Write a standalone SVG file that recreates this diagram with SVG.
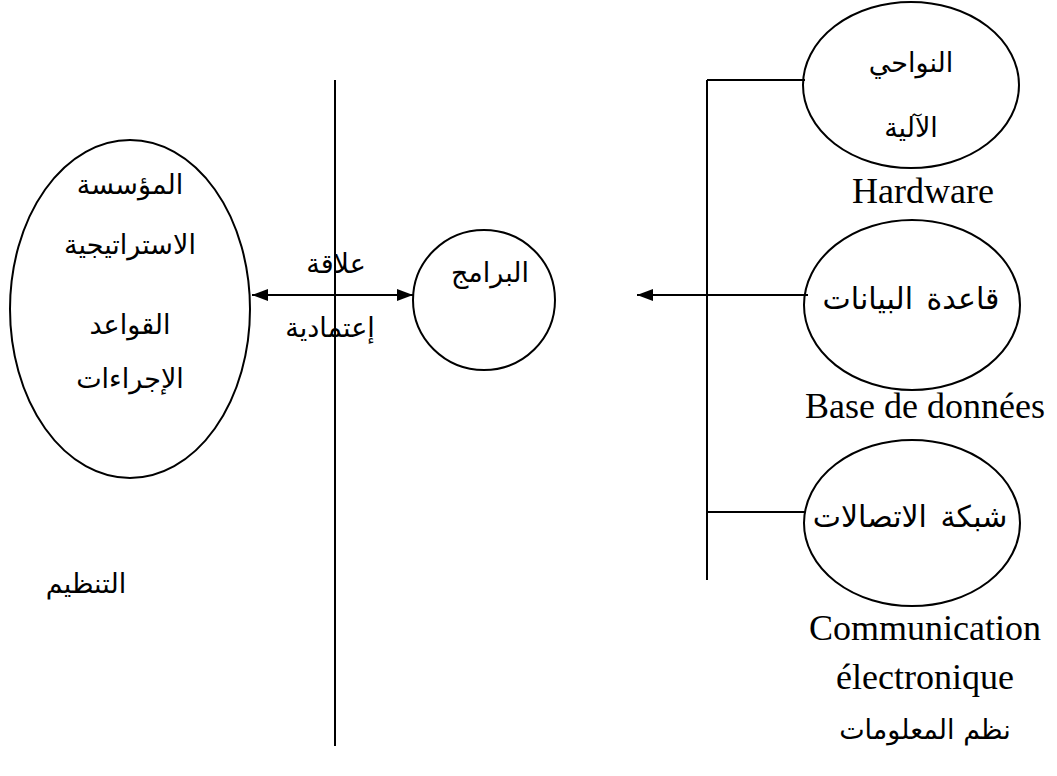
<svg xmlns="http://www.w3.org/2000/svg" width="1057" height="776" viewBox="0 0 1057 776">
<style>
.shape{fill:none;stroke:#000;stroke-width:2}
.line{fill:none;stroke:#000;stroke-width:2}
.ar{font-family:"DejaVu Sans","Noto Sans",sans-serif;font-size:27px;fill:#000;text-anchor:middle;direction:rtl}
.wide{font-size:30px;word-spacing:4px}
.en{font-family:"Liberation Serif","Times New Roman",serif;font-size:36px;fill:#000;text-anchor:middle}
</style>
<defs>
<marker id="ah" viewBox="0 0 16 12" refX="16" refY="6" markerWidth="16" markerHeight="12" markerUnits="userSpaceOnUse" orient="auto-start-reverse">
<path d="M0,0 L16,6 L0,12 Z" fill="#000"/>
</marker>
</defs>
<rect width="1057" height="776" fill="#fff"/>
<g id="connectors">
<line class="line" x1="335" y1="80" x2="335" y2="746"/>
<line class="line" x1="252" y1="295" x2="413" y2="295" marker-start="url(#ah)" marker-end="url(#ah)"/>
<line class="line" x1="808" y1="295" x2="637" y2="295" marker-end="url(#ah)"/>
<line class="line" x1="707" y1="80" x2="707" y2="580"/>
<line class="line" x1="707" y1="80" x2="805" y2="80"/>
<line class="line" x1="707" y1="512" x2="805" y2="512"/>
<text class="ar" x="336" y="273">علاقة</text>
<text class="ar" x="330" y="337">إعتمادية</text>
</g>
<g id="org">
<ellipse class="shape" cx="130" cy="309" rx="120" ry="169"/>
<text class="ar" x="130" y="194">المؤسسة</text>
<text class="ar" x="130" y="254">الاستراتيجية</text>
<text class="ar" x="130" y="334">القواعد</text>
<text class="ar" x="130" y="388">الإجراءات</text>
</g>
<g id="tanzim">
<text class="ar" x="86" y="593">التنظيم</text>
</g>
<g id="software">
<ellipse class="shape" cx="484" cy="300" rx="71" ry="70"/>
<text class="ar" x="490" y="282">البرامج</text>
</g>
<g id="hardware">
<ellipse class="shape" cx="911" cy="85" rx="108" ry="83"/>
<text class="ar" x="911" y="72">النواحي</text>
<text class="ar" x="911" y="137">الآلية</text>
<text class="en" x="923" y="203">Hardware</text>
</g>
<g id="database">
<ellipse class="shape" cx="912" cy="305" rx="108" ry="85"/>
<text class="ar wide" x="911" y="309">قاعدة البيانات</text>
<text class="en" x="925" y="418">Base de données</text>
</g>
<g id="network">
<ellipse class="shape" cx="912" cy="523" rx="108" ry="83"/>
<text class="ar wide" x="910" y="527">شبكة الاتصالات</text>
<text class="en" x="925" y="640">Communication</text>
<text class="en" x="925" y="689">électronique</text>
<text class="ar" x="925" y="739">نظم المعلومات</text>
</g>
</svg>
